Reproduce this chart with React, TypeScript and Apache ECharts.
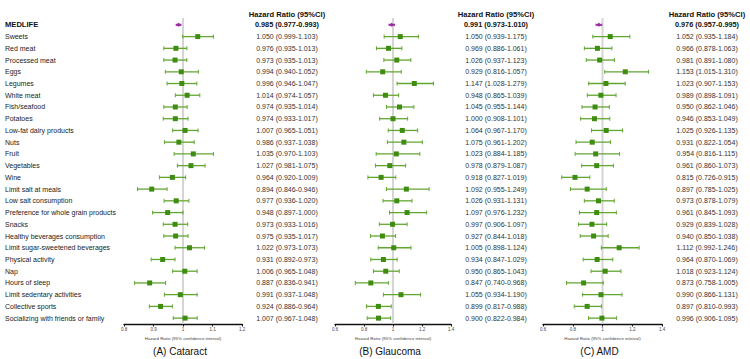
import React, { useEffect, useRef } from "react";
import * as echarts from "echarts";

// Row labels of the forest plot (top to bottom)
const rowLabels = [
  "MEDLIFE",
  "Sweets",
  "Red meat",
  "Processed meat",
  "Eggs",
  "Legumes",
  "White meat",
  "Fish/seafood",
  "Potatoes",
  "Low-fat dairy products",
  "Nuts",
  "Fruit",
  "Vegetables",
  "Wine",
  "Limit salt at meals",
  "Low salt consumption",
  "Preference for whole grain products",
  "Snacks",
  "Healthy beverages consumption",
  "Limit sugar-sweetened beverages",
  "Physical activity",
  "Nap",
  "Hours of sleep",
  "Limit sedentary activities",
  "Collective sports",
  "Socializing with friends or family",
];

// (A) Cataract
const cataractHR = [0.985, 1.05, 0.976, 0.973, 0.994, 0.996, 1.014, 0.974, 0.974, 1.007, 0.986, 1.035, 1.027, 0.964, 0.894, 0.977, 0.948, 0.973, 0.975, 1.022, 0.931, 1.006, 0.887, 0.991, 0.924, 1.007];
const cataractLow = [0.977, 0.999, 0.935, 0.935, 0.94, 0.946, 0.974, 0.935, 0.933, 0.965, 0.937, 0.97, 0.981, 0.92, 0.846, 0.936, 0.897, 0.933, 0.935, 0.973, 0.892, 0.965, 0.836, 0.937, 0.886, 0.967];
const cataractHigh = [0.993, 1.103, 1.013, 1.013, 1.052, 1.047, 1.057, 1.014, 1.017, 1.051, 1.038, 1.103, 1.075, 1.009, 0.946, 1.02, 1.0, 1.016, 1.017, 1.073, 0.973, 1.048, 0.941, 1.048, 0.964, 1.048];

// (B) Glaucoma
const glaucomaHR = [0.991, 1.05, 0.969, 1.026, 0.929, 1.147, 0.948, 1.045, 1.0, 1.064, 1.075, 1.023, 0.978, 0.918, 1.092, 1.026, 1.097, 0.997, 0.927, 1.005, 0.934, 0.95, 0.847, 1.055, 0.899, 0.9];
const glaucomaLow = [0.973, 0.939, 0.886, 0.937, 0.816, 1.028, 0.865, 0.955, 0.908, 0.967, 0.961, 0.884, 0.879, 0.827, 0.955, 0.931, 0.976, 0.906, 0.844, 0.898, 0.847, 0.865, 0.74, 0.934, 0.817, 0.822];
const glaucomaHigh = [1.01, 1.175, 1.061, 1.123, 1.057, 1.279, 1.039, 1.144, 1.101, 1.17, 1.202, 1.185, 1.087, 1.019, 1.249, 1.131, 1.232, 1.097, 1.018, 1.124, 1.029, 1.043, 0.968, 1.19, 0.988, 0.984];

// (C) AMD
const amdHR = [0.976, 1.052, 0.966, 0.981, 1.153, 1.023, 0.989, 0.95, 0.946, 1.025, 0.931, 0.954, 0.961, 0.815, 0.897, 0.973, 0.961, 0.929, 0.94, 1.112, 0.964, 1.018, 0.873, 0.99, 0.897, 0.996];
const amdLow = [0.957, 0.935, 0.878, 0.891, 1.015, 0.907, 0.898, 0.862, 0.853, 0.926, 0.822, 0.816, 0.86, 0.726, 0.785, 0.878, 0.845, 0.839, 0.85, 0.992, 0.87, 0.923, 0.758, 0.866, 0.81, 0.906];
const amdHigh = [0.995, 1.184, 1.063, 1.08, 1.31, 1.153, 1.091, 1.046, 1.049, 1.135, 1.054, 1.115, 1.073, 0.915, 1.025, 1.079, 1.093, 1.028, 1.038, 1.246, 1.069, 1.124, 1.005, 1.131, 0.993, 1.095];

const panelTitles = ["(A) Cataract", "(B) Glaucoma", "(C) AMD"];
const axisMins = [0.8, 0.6, 0.6];
const axisMaxs = [1.2, 1.4, 1.4];
const axisSteps = [0.1, 0.2, 0.2];
const nullEffect = [1];

const columnHeader = "Hazard Ratio (95%CI)";
const axisTitle = "Hazard Ratio (95% confidence interval)";

const FONT = "'Liberation Sans', Arial, Helvetica, sans-serif";
const GREEN_LINE = "#62a632";
const GREEN_BOX = "#3e8d10";
const PURPLE = "#9a2aa0";

const panels = [
  { hr: cataractHR, low: cataractLow, high: cataractHigh },
  { hr: glaucomaHR, low: glaucomaLow, high: glaucomaHigh },
  { hr: amdHR, low: amdLow, high: amdHigh },
];

// layout of the three plotting areas
const gridBoxes = [
  { left: 124, width: 118 },
  { left: 335, width: 116 },
  { left: 543, width: 119 },
];
const GRID_TOP = 19;
const GRID_HEIGHT = 305;
const TEXT_GAP = 45;

const fmt = (v: number) => v.toFixed(3);

export default function App() {
  const ref = useRef<HTMLDivElement>(null);

  useEffect(() => {
    if (!ref.current) return;
    const chart = echarts.init(ref.current, undefined, { renderer: "svg" });

    const grid: any[] = [];
    const xAxis: any[] = [];
    const yAxis: any[] = [];
    const series: any[] = [];
    const graphic: any[] = [];

    panels.forEach((p, i) => {
      const box = gridBoxes[i];
      grid.push({ left: box.left, width: box.width, top: GRID_TOP, height: GRID_HEIGHT, containLabel: false });

      xAxis.push({
        gridIndex: i,
        type: "value",
        min: axisMins[i],
        max: axisMaxs[i],
        interval: axisSteps[i],
        splitLine: { show: false },
        axisLine: { show: true, lineStyle: { color: "#111", width: 1.3 } },
        axisTick: { show: true, length: 2.5, lineStyle: { color: "#111", width: 1 } },
        axisLabel: {
          fontSize: 4.5,
          color: "#444",
          margin: 3,
          fontFamily: FONT,
          formatter: (v: number) => String(Math.round(v * 10) / 10),
        },
        name: axisTitle,
        nameLocation: "middle",
        nameGap: 10.5,
        nameTextStyle: { fontSize: 4.4, color: "#444", fontFamily: FONT },
      });

      // left axis: row labels (first panel only)
      yAxis.push({
        gridIndex: i,
        type: "category",
        data: rowLabels,
        inverse: true,
        position: "left",
        axisLine: { show: false },
        axisTick: { show: false },
        splitLine: { show: false },
        axisLabel: i === 0
          ? {
              show: true,
              interval: 0,
              align: "left",
              margin: box.left - 5,
              fontSize: 7,
              color: "#222",
              fontFamily: FONT,
              formatter: (v: string, idx: number) => (idx === 0 ? `{b|${v}}` : v),
              rich: { b: { fontWeight: "bold", fontSize: 7.6, color: "#111", fontFamily: FONT } },
            }
          : { show: false },
      });

      // right axis: hazard ratio text column
      const texts = p.hr.map((v, k) => `${fmt(v)} (${fmt(p.low[k])}-${fmt(p.high[k])})`);
      yAxis.push({
        gridIndex: i,
        type: "category",
        data: texts,
        inverse: true,
        position: "right",
        axisLine: { show: false },
        axisTick: { show: false },
        splitLine: { show: false },
        axisLabel: {
          show: true,
          interval: 0,
          align: "center",
          margin: TEXT_GAP,
          fontSize: 7,
          color: "#333",
          fontFamily: FONT,
          formatter: (v: string, idx: number) => (idx === 0 ? `{b|${v}}` : v),
          rich: { b: { fontWeight: "bold", fontSize: 7.3, color: "#111", fontFamily: FONT } },
        },
      });

      // reference line at HR = 1, spanning the full plotting height
      series.push({
        type: "custom",
        xAxisIndex: i,
        yAxisIndex: i * 2,
        z: 1,
        silent: true,
        encode: { x: 0 },
        data: nullEffect.map((v) => [v, 0]),
        renderItem: (params: any, api: any) => {
          const cs = params.coordSys;
          const x = api.coord([api.value(0), 0])[0];
          return {
            type: "line",
            shape: { x1: x, y1: cs.y - 1, x2: x, y2: cs.y + cs.height },
            style: { stroke: "#d5d5d5", lineWidth: 2 },
          };
        },
      });

      // point estimates with confidence intervals
      series.push({
        type: "custom",
        xAxisIndex: i,
        yAxisIndex: i * 2,
        z: 3,
        encode: { x: [0, 1, 2], y: 3 },
        data: p.hr.map((v, k) => [p.low[k], p.high[k], v, k]),
        renderItem: (params: any, api: any) => {
          const row = api.value(3);
          const lo = api.coord([api.value(0), row]);
          const hi = api.coord([api.value(1), row]);
          const mid = api.coord([api.value(2), row]);
          const main = params.dataIndex === 0;
          const lineColor = main ? PURPLE : GREEN_LINE;
          const boxColor = main ? PURPLE : GREEN_BOX;
          const cap = main ? 1.2 : 2;
          const size = 5;
          const lw = main ? 1.6 : 1.3;
          return {
            type: "group",
            children: [
              { type: "line", shape: { x1: lo[0], y1: lo[1], x2: hi[0], y2: hi[1] }, style: { stroke: lineColor, lineWidth: lw } },
              { type: "line", shape: { x1: lo[0], y1: lo[1] - cap, x2: lo[0], y2: lo[1] + cap }, style: { stroke: lineColor, lineWidth: 1 } },
              { type: "line", shape: { x1: hi[0], y1: hi[1] - cap, x2: hi[0], y2: hi[1] + cap }, style: { stroke: lineColor, lineWidth: 1 } },
              main
                ? {
                    type: "polygon",
                    shape: {
                      points: [
                        [mid[0] - 2.6, mid[1]],
                        [mid[0], mid[1] - 2],
                        [mid[0] + 2.6, mid[1]],
                        [mid[0], mid[1] + 2],
                      ],
                    },
                    style: { fill: boxColor },
                  }
                : {
                    type: "rect",
                    shape: { x: mid[0] - size / 2, y: mid[1] - size / 2, width: size, height: size },
                    style: { fill: boxColor },
                  },
            ],
          };
        },
      });

      // column header and panel title
      graphic.push({
        type: "text",
        x: box.left + box.width + TEXT_GAP,
        y: 14,
        style: {
          text: columnHeader,
          align: "center",
          verticalAlign: "middle",
          fontSize: 7.6,
          fontWeight: "bold",
          fontFamily: FONT,
          fill: "#111",
        },
      });
      graphic.push({
        type: "text",
        x: box.left + box.width / 2 - 3,
        y: 351,
        style: {
          text: panelTitles[i],
          align: "center",
          verticalAlign: "middle",
          fontSize: 10,
          fontFamily: FONT,
          fill: "#111",
        },
      });
    });

    chart.setOption({
      animation: false,
      backgroundColor: "#ffffff",
      textStyle: { fontFamily: FONT },
      grid,
      xAxis,
      yAxis,
      series,
      graphic,
    });

    return () => chart.dispose();
  }, []);

  return (
    <div
      ref={ref}
      style={{ position: "fixed", left: 0, top: 0, width: 750, height: 359, background: "#fff" }}
    />
  );
}
